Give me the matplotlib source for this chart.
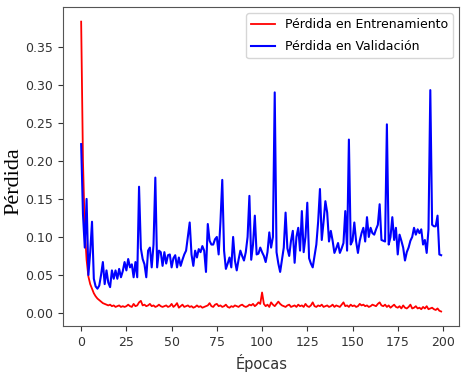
import matplotlib.pyplot as plt
import numpy as np

# loss per epoch
train_loss = [
    0.383, 0.200, 0.110, 0.070, 0.048, 0.038, 0.032, 0.026, 0.022, 0.019,
    0.017, 0.015, 0.013, 0.012, 0.011, 0.010, 0.011, 0.009, 0.010, 0.008,
    0.009, 0.010, 0.008, 0.009, 0.008, 0.009, 0.011, 0.009, 0.008, 0.012,
    0.009, 0.010, 0.014, 0.016, 0.010, 0.011, 0.009, 0.010, 0.012, 0.009,
    0.010, 0.008, 0.009, 0.011, 0.009, 0.008, 0.009, 0.010, 0.008, 0.009,
    0.012, 0.008, 0.010, 0.013, 0.007, 0.009, 0.011, 0.008, 0.009, 0.010,
    0.008, 0.009, 0.007, 0.008, 0.010, 0.008, 0.009, 0.007, 0.008, 0.009,
    0.010, 0.013, 0.009, 0.008, 0.011, 0.012, 0.009, 0.010, 0.008, 0.009,
    0.011, 0.008, 0.007, 0.009, 0.008, 0.010, 0.009, 0.008, 0.010, 0.011,
    0.009, 0.008, 0.009, 0.011, 0.010, 0.012, 0.009, 0.011, 0.014, 0.012,
    0.027, 0.012, 0.009, 0.011, 0.008, 0.014, 0.011, 0.009, 0.012, 0.015,
    0.012, 0.010, 0.009, 0.008, 0.010, 0.011, 0.008, 0.009, 0.010, 0.008,
    0.011, 0.009, 0.010, 0.008, 0.012, 0.009, 0.008, 0.010, 0.014, 0.009,
    0.008, 0.010, 0.009, 0.011, 0.008, 0.009, 0.010, 0.008, 0.009, 0.011,
    0.008, 0.010, 0.009, 0.008, 0.011, 0.014, 0.009, 0.010, 0.008, 0.011,
    0.009, 0.010, 0.008, 0.009, 0.012, 0.010, 0.011, 0.009, 0.010, 0.008,
    0.009, 0.011, 0.010, 0.009, 0.012, 0.014, 0.010, 0.009, 0.011, 0.008,
    0.010, 0.007, 0.009, 0.011, 0.008, 0.007, 0.009, 0.006, 0.010, 0.007,
    0.006, 0.008, 0.011, 0.006, 0.007, 0.009, 0.006, 0.007, 0.005, 0.008,
    0.006, 0.009, 0.005, 0.006, 0.007, 0.005, 0.004, 0.006, 0.003, 0.002,
]

val_loss = [
    0.222, 0.130, 0.086, 0.150, 0.050, 0.080, 0.120, 0.045, 0.035, 0.032,
    0.036, 0.050, 0.067, 0.038, 0.056, 0.040, 0.034, 0.056, 0.045, 0.056,
    0.045, 0.058, 0.047, 0.055, 0.067, 0.056, 0.071, 0.060, 0.064, 0.047,
    0.067, 0.047, 0.166, 0.085, 0.071, 0.064, 0.047, 0.082, 0.086, 0.060,
    0.090, 0.178, 0.060, 0.082, 0.080, 0.062, 0.080, 0.065, 0.076, 0.077,
    0.060, 0.072, 0.076, 0.060, 0.073, 0.062, 0.070, 0.077, 0.082, 0.100,
    0.119, 0.077, 0.062, 0.082, 0.073, 0.084, 0.080, 0.088, 0.082, 0.054,
    0.117, 0.095, 0.090, 0.090, 0.097, 0.100, 0.077, 0.120, 0.175, 0.082,
    0.058, 0.065, 0.073, 0.060, 0.100, 0.069, 0.056, 0.070, 0.082, 0.075,
    0.069, 0.080, 0.100, 0.154, 0.070, 0.090, 0.128, 0.077, 0.078, 0.086,
    0.080, 0.075, 0.067, 0.080, 0.106, 0.086, 0.100, 0.290, 0.080, 0.065,
    0.054, 0.070, 0.086, 0.132, 0.085, 0.075, 0.095, 0.108, 0.066, 0.100,
    0.112, 0.082, 0.134, 0.080, 0.100, 0.145, 0.072, 0.065, 0.060, 0.075,
    0.090, 0.120, 0.163, 0.096, 0.120, 0.147, 0.132, 0.094, 0.108, 0.095,
    0.079, 0.085, 0.092, 0.079, 0.085, 0.092, 0.134, 0.082, 0.228, 0.090,
    0.095, 0.119, 0.094, 0.079, 0.095, 0.105, 0.112, 0.094, 0.126, 0.100,
    0.112, 0.105, 0.103, 0.110, 0.116, 0.143, 0.096, 0.095, 0.094, 0.248,
    0.090, 0.100, 0.126, 0.096, 0.112, 0.077, 0.103, 0.095, 0.086, 0.069,
    0.080, 0.086, 0.095, 0.100, 0.112, 0.103, 0.110, 0.105, 0.110, 0.090,
    0.096, 0.079, 0.110, 0.293, 0.116, 0.114, 0.114, 0.128, 0.077, 0.076,
]

epochs = np.arange(len(train_loss))

fig = plt.figure(figsize=(4.61, 3.76), dpi=100)
ax = fig.add_axes([0.137, 0.133, 0.859, 0.848])

ax.plot(epochs, train_loss, color='red', linewidth=1.3, label='Pérdida en Entrenamiento')
ax.plot(epochs, val_loss, color='blue', linewidth=1.5, label='Pérdida en Validación')

ax.set_xticks([0, 25, 50, 75, 100, 125, 150, 175, 200])
ax.set_yticks([0.00, 0.05, 0.10, 0.15, 0.20, 0.25, 0.30, 0.35])
ax.tick_params(labelsize=9, colors='#333333', labelcolor='#333333')
ax.set_xlabel('Épocas', fontsize=10.5, color='#333333')
ax.set_ylabel('Pérdida', fontsize=16, family='Liberation Serif')
ax.yaxis.set_label_coords(-0.1, 0.455)

for sp in ax.spines.values():
    sp.set_color('#555555')

ax.legend(loc='upper right', fontsize=9, handlelength=1.9, labelspacing=0.7,
          framealpha=0.8)

fig.savefig('out.png', dpi=100)
